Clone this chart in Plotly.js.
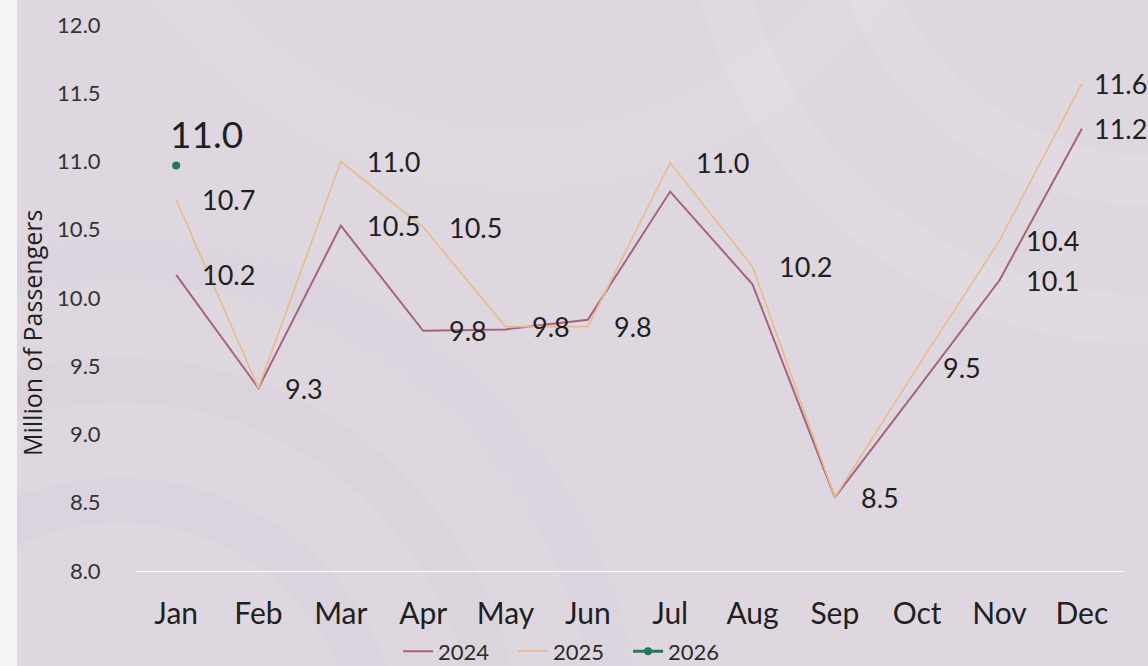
<!DOCTYPE html>
<html>
<head>
<meta charset="utf-8">
<script src="https://cdn.plot.ly/plotly-3.0.1.min.js"></script>
<style>
  html, body { margin: 0; padding: 0; background: #ffffff; }
  #chart { width: 1148px; height: 666px; }
</style>
</head>
<body>
<div id="chart"></div>
<script>
// ---- data ----
const months = ['Jan','Feb','Mar','Apr','May','Jun','Jul','Aug','Sep','Oct','Nov','Dec'];
const passengers2024 = [10.17, 9.34, 10.53, 9.76, 9.77, 9.84, 10.78, 10.10, 8.54, 9.33, 10.13, 11.24];
const passengers2025 = [10.72, 9.34, 11.00, 10.52, 9.79, 9.79, 10.99, 10.23, 8.54, 9.49, 10.42, 11.57];
const months2026 = ['Jan'];
const passengers2026 = [10.97];
const showLabel2024 = [true, false, true, true, false, false, false, false, false, false, true, true];
const showLabel2025 = [true, true, true, true, true, true, true, true, true, true, true, true];
const yTicks = [8.0, 8.5, 9.0, 9.5, 10.0, 10.5, 11.0, 11.5, 12.0];

// ---- styles ----
const C2024 = '#a8627f';
const C2025 = '#e8bb88';
const C2026 = '#1f7a58';
const FONT = 'Lato, "Open Sans", sans-serif';
const TXT = '#1f1f1f';

const traces = [
  { x: months, y: passengers2024, name: '2024', type: 'scatter', mode: 'lines',
    line: { color: C2024, width: 2 }, hoverinfo: 'x+y' },
  { x: months, y: passengers2025, name: '2025', type: 'scatter', mode: 'lines',
    line: { color: C2025, width: 1.6 }, hoverinfo: 'x+y' },
  { x: months2026, y: passengers2026, name: '2026', type: 'scatter', mode: 'lines+markers',
    line: { color: C2026, width: 3 }, marker: { color: C2026, size: 8 }, hoverinfo: 'x+y' }
];

const annotations = [];
function addLabels(vals, show) {
  vals.forEach((v, i) => {
    if (!show[i]) return;
    annotations.push({
      x: months[i], y: v, xref: 'x', yref: 'y', text: v.toFixed(1),
      showarrow: false, xanchor: 'left', yanchor: 'middle',
      xshift: i === months.length - 1 ? 10 : 24,
      font: { family: FONT, size: 27, color: TXT }
    });
  });
}
addLabels(passengers2024, showLabel2024);
addLabels(passengers2025, showLabel2025);
passengers2026.forEach((v, i) => {
  annotations.push({
    x: months2026[i], y: v, xref: 'x', yref: 'y', text: v.toFixed(1),
    showarrow: false, xanchor: 'left', yanchor: 'bottom', xshift: -8, yshift: 8,
    font: { family: FONT, size: 37, color: TXT }
  });
});
// y-axis title (positioned like the reference)
annotations.push({
  xref: 'paper', yref: 'paper', x: (32 - 135) / 988, y: (571 - 333) / 546,
  text: 'Million of Passengers', textangle: -90, showarrow: false,
  xanchor: 'center', yanchor: 'middle',
  font: { family: '"Open Sans", sans-serif', size: 25, color: TXT }
});

// decorative background: faint swirl arcs + white left strip
const px = p => (p - 135) / 988;
const py = p => (571 - p) / 546;
const shapes = [];
function ring(cx, cy, r, color, w) {
  shapes.push({ type: 'circle', xref: 'paper', yref: 'paper', layer: 'below',
    x0: px(cx - r), x1: px(cx + r), y0: py(cy + r), y1: py(cy - r),
    line: { color: color, width: w }, fillcolor: 'rgba(0,0,0,0)' });
}
ring(120, 760, 260, 'rgba(205,196,210,0.18)', 45);
ring(120, 760, 380, 'rgba(205,196,210,0.15)', 45);
ring(120, 760, 500, 'rgba(205,196,210,0.12)', 45);
ring(1150, -120, 300, 'rgba(240,236,242,0.16)', 50);
ring(1150, -120, 440, 'rgba(240,236,242,0.13)', 50);
ring(520, -260, 420, 'rgba(240,236,242,0.14)', 60);
shapes.push({ type: 'rect', xref: 'paper', yref: 'paper', layer: 'below',
  x0: px(-5), x1: px(17), y0: py(700), y1: py(-10),
  line: { width: 0 }, fillcolor: '#f6f4f7' });

const layout = {
  width: 1148, height: 666,
  margin: { l: 135, r: 25, t: 25, b: 95 },
  paper_bgcolor: '#ded7e0',
  plot_bgcolor: 'rgba(0,0,0,0)',
  font: { family: FONT, color: TXT },
  showlegend: true,
  legend: {
    orientation: 'h', xref: 'container', yref: 'container',
    x: 0.497, xanchor: 'center', y: 0.022, yanchor: 'middle',
    font: { family: FONT, size: 22, color: '#2a2a2a' },
    bgcolor: 'rgba(0,0,0,0)', itemwidth: 30, entrywidth: 70, entrywidthmode: 'pixels'
  },
  xaxis: {
    type: 'category', categoryorder: 'array', categoryarray: months,
    range: [-0.5, 11.5], showgrid: false, zeroline: false,
    showline: true, linecolor: 'rgba(255,255,255,0.85)', linewidth: 1,
    ticks: 'outside', ticklen: 16, tickcolor: 'rgba(0,0,0,0)',
    tickfont: { family: FONT, size: 30, color: TXT }
  },
  yaxis: {
    range: [8, 12], tickvals: yTicks, ticktext: yTicks.map(v => v.toFixed(1)),
    showgrid: false, zeroline: false, showline: false,
    ticks: 'outside', ticklen: 29, tickcolor: 'rgba(0,0,0,0)',
    tickfont: { family: FONT, size: 22, color: '#333333' }
  },
  annotations: annotations,
  shapes: shapes
};

Plotly.newPlot('chart', traces, layout, { displayModeBar: false, responsive: false });
</script>
</body>
</html>
